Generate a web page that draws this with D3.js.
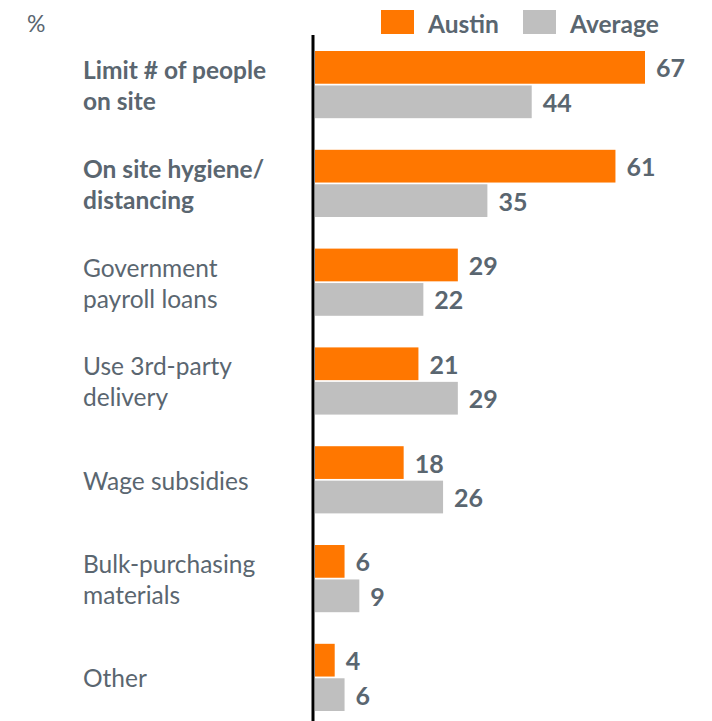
<!DOCTYPE html>
<html>
<head>
<meta charset="utf-8">
<script src="https://cdn.jsdelivr.net/npm/d3@7"></script>
<style>
  body { margin: 0; background: #fff; }
  text { font-family: Lato, "Open Sans", sans-serif; }
</style>
</head>
<body>
<svg id="chart" width="712" height="721"></svg>
<script>
// data
const categories = [
  ["Limit # of people", "on site"],
  ["On site hygiene/", "distancing"],
  ["Government", "payroll loans"],
  ["Use 3rd-party", "delivery"],
  ["Wage subsidies"],
  ["Bulk-purchasing", "materials"],
  ["Other"]
]
const boldRows = [0, 1]
const seriesNames = ["Austin", "Average"]
const austin = [67, 61, 29, 21, 18, 6, 4]
const average = [44, 35, 22, 29, 26, 9, 6]

const colors = { Austin: "#ff7700", Average: "#bfbfbf" }
const textColor = "#5a6670"

let svg = d3.select("#chart")

let rows = categories.map((c, i) => ({
  key: "r" + i,
  lines: c,
  bold: boldRows.includes(i),
  values: [
    { name: "Austin", value: austin[i] },
    { name: "Average", value: average[i] }
  ]
}))

let x = d3.scaleLinear()
          .domain([0, 67])
          .range([315, 645])

let y = d3.scaleBand()
          .domain(rows.map((d) => d.key))
          .range([51, 711])
          .paddingInner(0.32)
          .paddingOuter(0)

let ySub = d3.scaleBand()
             .domain(seriesNames)
             .range([0, y.bandwidth()])
             .paddingInner(0.05)

let group = svg.selectAll("g.row")
               .data(rows)
               .enter()
               .append("g")
               .attr("class", "row")
               .attr("transform", (d) => "translate(0," + y(d.key) + ")")

group.selectAll("rect")
     .data((d) => d.values)
     .enter()
     .append("rect")
     .attr("x", x(0))
     .attr("y", (d) => ySub(d.name))
     .attr("width", (d) => x(d.value) - x(0))
     .attr("height", ySub.bandwidth())
     .attr("fill", (d) => colors[d.name])

group.selectAll("text.value")
     .data((d) => d.values)
     .enter()
     .append("text")
     .attr("class", "value")
     .attr("x", (d) => x(d.value) + 11)
     .attr("y", (d) => ySub(d.name) + ySub.bandwidth() / 2 + 1)
     .attr("dy", "0.36em")
     .style("font-size", "25px")
     .style("font-weight", "bold")
     .attr("fill", textColor)
     .text((d) => d.value)

// category labels, one or two lines, centred on the group
group.append("text")
     .attr("x", 83)
     .attr("fill", textColor)
     .style("font-size", "24.5px")
     .style("font-weight", (d) => d.bold ? "bold" : "normal")
     .each(function (d) {
       let t = d3.select(this)
       let n = d.lines.length
       let lh = 31
       d.lines.forEach((line, i) => {
         t.append("tspan")
          .attr("x", 83)
          .attr("y", y.bandwidth() / 2 + 1 + (i - (n - 1) / 2) * lh)
          .attr("dy", "0.36em")
          .text(line)
       })
     })

// vertical axis line
svg.append("line")
   .attr("x1", 313)
   .attr("x2", 313)
   .attr("y1", 35)
   .attr("y2", 721)
   .attr("stroke", "#000")
   .attr("stroke-width", 3)

// unit
svg.append("text")
   .attr("x", 27)
   .attr("y", 32)
   .attr("fill", textColor)
   .style("font-size", "23px")
   .text("%")

// legend
let legendX = [381, 523]
let legend = svg.selectAll("g.legend")
                .data(seriesNames)
                .enter()
                .append("g")
                .attr("class", "legend")
                .attr("transform", (d, i) => "translate(" + legendX[i] + ",10)")

legend.append("rect")
      .attr("width", 33)
      .attr("height", 24)
      .attr("fill", (d) => colors[d])

legend.append("text")
      .attr("x", 47)
      .attr("y", 14)
      .attr("dy", "0.36em")
      .attr("fill", textColor)
      .style("font-size", "24.5px")
      .style("font-weight", "bold")
      .text((d) => d)
</script>
</body>
</html>
